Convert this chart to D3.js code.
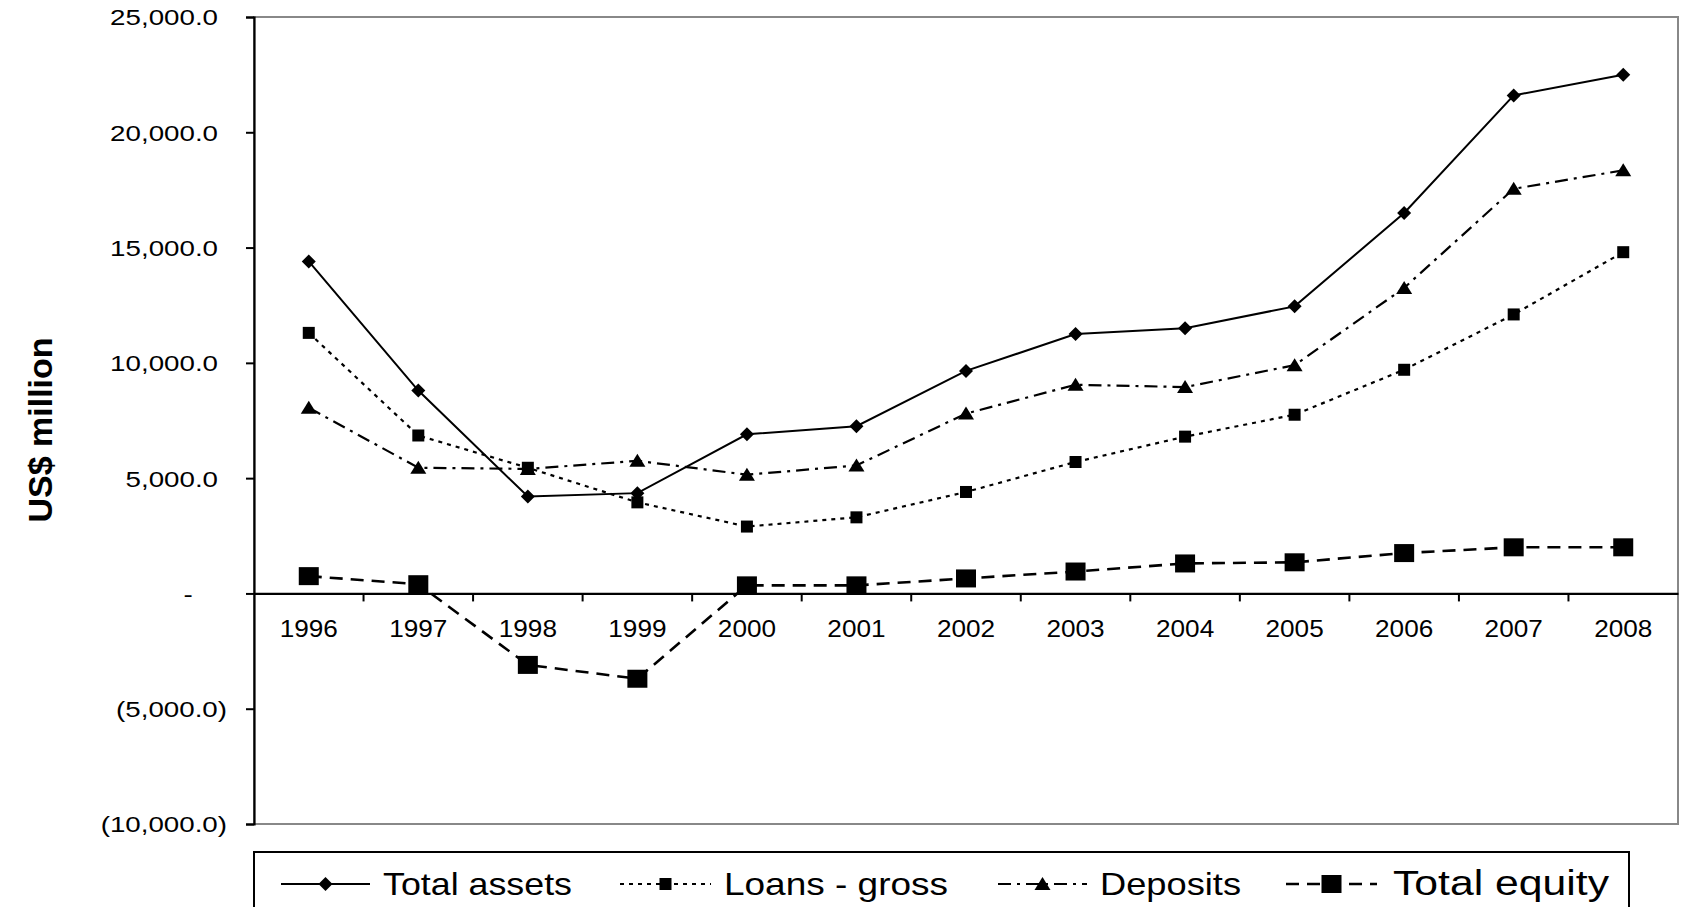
<!DOCTYPE html>
<html><head><meta charset="utf-8">
<script src="https://cdn.jsdelivr.net/npm/d3@7"></script>
<style>html,body{margin:0;padding:0;background:#fff;}svg{display:block;font-family:"Liberation Sans",Arial,sans-serif;}</style>
</head><body>
<svg id="chart" width="1683" height="907"></svg>
<script>
const years = ["1996","1997","1998","1999","2000","2001","2002","2003","2004","2005","2006","2007","2008"];
const totalAssets = [14400, 8800, 4200, 4350, 6900, 7250, 9650, 11250, 11500, 12450, 16500, 21600, 22500];
const loansGross  = [11300, 6850, 5450, 3950, 2900, 3300, 4400, 5700, 6800, 7750, 9700, 12100, 14800];
const deposits    = [8050, 5450, 5400, 5750, 5150, 5550, 7800, 9050, 8950, 9900, 13250, 17550, 18350];
const totalEquity = [750, 400, -3100, -3700, 350, 350, 650, 950, 1300, 1350, 1750, 2000, 2000];
const yTicks = [-10000, -5000, 0, 5000, 10000, 15000, 20000, 25000];
const seriesNames = ["Total assets", "Loans - gross", "Deposits", "Total equity"];

const svg = d3.select("#chart");
const L = 254, R = 1678, T = 17, B = 824;
const x = d3.scaleBand().domain(years).range([L, R]).padding(0);
const y = d3.scaleLinear().domain([-10000, 25000]).range([B, T]);
const cx = d => x(d) + x.bandwidth() / 2;

const fmt = d3.format(",.1f");
const tickFmt = v => v === 0 ? "-" : (v < 0 ? "(" + fmt(-v) + ")" : fmt(v));

// stretch helper: place text horizontally stretched by sx
function stretch(sel, sx, anchorFn) {
  sel.each(function(d, i) {
    const t = d3.select(this);
    t.attr("text-anchor", "start");
    const w = this.getComputedTextLength();
    const tw = w * sx;
    t.attr("textLength", tw).attr("lengthAdjust", "spacingAndGlyphs").attr("x", anchorFn(d, tw, i));
  });
}

// plot border (gray)
svg.append("rect").attr("x", L).attr("y", y(25000)).attr("width", R - L).attr("height", y(-10000) - y(25000))
  .attr("fill", "none").attr("stroke", "#888").attr("stroke-width", 2);

// y axis
const yAxis = d3.axisLeft(y).tickValues(yTicks).tickFormat(tickFmt).tickSize(8).tickPadding(14);
const gy = svg.append("g").attr("transform", `translate(${L},0)`).call(yAxis);
gy.select(".domain").attr("stroke", "#000").attr("stroke-width", 2.2);
gy.selectAll(".tick line").attr("stroke", "#000").attr("stroke-width", 2);
const yt = gy.selectAll(".tick text").attr("font-size", 22).attr("fill", "#000")
  .attr("font-family", "Liberation Sans, Arial, sans-serif").attr("dy", "0.36em");
stretch(yt, 1.26, (d, tw) => d === 0 ? (188 - L - tw / 2) : (d < 0 ? (227 - L - tw) : (218 - L - tw)));

// x axis at zero
const xAxis = d3.axisBottom(x).tickSize(0).tickPadding(22);
const gx = svg.append("g").attr("transform", `translate(0,${y(0)})`).call(xAxis);
gx.select(".domain").attr("stroke", "#000").attr("stroke-width", 2.2);
const xt = gx.selectAll(".tick text").attr("font-size", 24).attr("fill", "#000")
  .attr("font-family", "Liberation Sans, Arial, sans-serif").attr("y", 44).attr("dy", 0);
stretch(xt, 1.09, (d, tw) => -tw / 2);
// tick marks at band boundaries
gx.selectAll(".bound").data(years.slice(1)).enter().append("line")
  .attr("x1", d => x(d)).attr("x2", d => x(d)).attr("y1", 0).attr("y2", 8)
  .attr("stroke", "#000").attr("stroke-width", 2);

// y title
svg.append("text").attr("transform", `translate(52,430) rotate(-90)`)
  .attr("text-anchor", "middle").attr("font-size", 34).attr("font-weight", "bold").text("US$ million");

// series
const series = [
  {name: seriesNames[0], vals: totalAssets, dash: null, w: 2, marker: "diamond"},
  {name: seriesNames[1], vals: loansGross, dash: "4,5", w: 2.2, marker: "sq"},
  {name: seriesNames[2], vals: deposits, dash: "13,6,3,6", w: 2.2, marker: "tri"},
  {name: seriesNames[3], vals: totalEquity, dash: "13,8", w: 2.6, marker: "bigsq"}
];
const line = d3.line().x((d, i) => cx(years[i])).y(d => y(d));

function drawMarker(g, type, px, py) {
  if (type === "diamond") {
    g.append("path").attr("d", `M${px},${py-7}L${px+7},${py}L${px},${py+7}L${px-7},${py}Z`).attr("fill", "#000");
  } else if (type === "sq") {
    g.append("rect").attr("x", px - 6).attr("y", py - 6).attr("width", 12).attr("height", 12).attr("fill", "#000");
  } else if (type === "tri") {
    g.append("path").attr("d", `M${px},${py-7}L${px+8},${py+6}L${px-8},${py+6}Z`).attr("fill", "#000");
  } else {
    g.append("rect").attr("x", px - 10).attr("y", py - 9).attr("width", 20).attr("height", 18).attr("fill", "#000");
  }
}

const gs = svg.append("g");
series.forEach(s => {
  gs.append("path").attr("d", line(s.vals)).attr("fill", "none").attr("stroke", "#000")
    .attr("stroke-width", s.w).attr("stroke-dasharray", s.dash);
  const mg = gs.append("g");
  s.vals.forEach((v, i) => drawMarker(mg, s.marker, cx(years[i]), y(v)));
});

// legend
const lg = svg.append("g");
lg.append("rect").attr("x", 254).attr("y", 852).attr("width", 1375).attr("height", 80)
  .attr("fill", "#fff").attr("stroke", "#000").attr("stroke-width", 2);
const legendPos = [
  {x1: 281, x2: 370, tx: 383, tw: 189, fs: 32},
  {x1: 620, x2: 711, tx: 724, tw: 224, fs: 32},
  {x1: 998, x2: 1087, tx: 1100, tw: 141, fs: 32},
  {x1: 1286, x2: 1377, tx: 1393, tw: 216, fs: 35}
];
const ly = 884;
series.forEach((s, i) => {
  const p = legendPos[i];
  lg.append("line").attr("x1", p.x1).attr("x2", p.x2).attr("y1", ly).attr("y2", ly)
    .attr("stroke", "#000").attr("stroke-width", s.w).attr("stroke-dasharray", s.dash);
  drawMarker(lg, s.marker, (p.x1 + p.x2) / 2, ly);
  lg.append("text").attr("x", p.tx).attr("y", 895).attr("font-size", p.fs)
    .attr("textLength", p.tw).attr("lengthAdjust", "spacingAndGlyphs").text(s.name);
});
</script>
</body></html>
